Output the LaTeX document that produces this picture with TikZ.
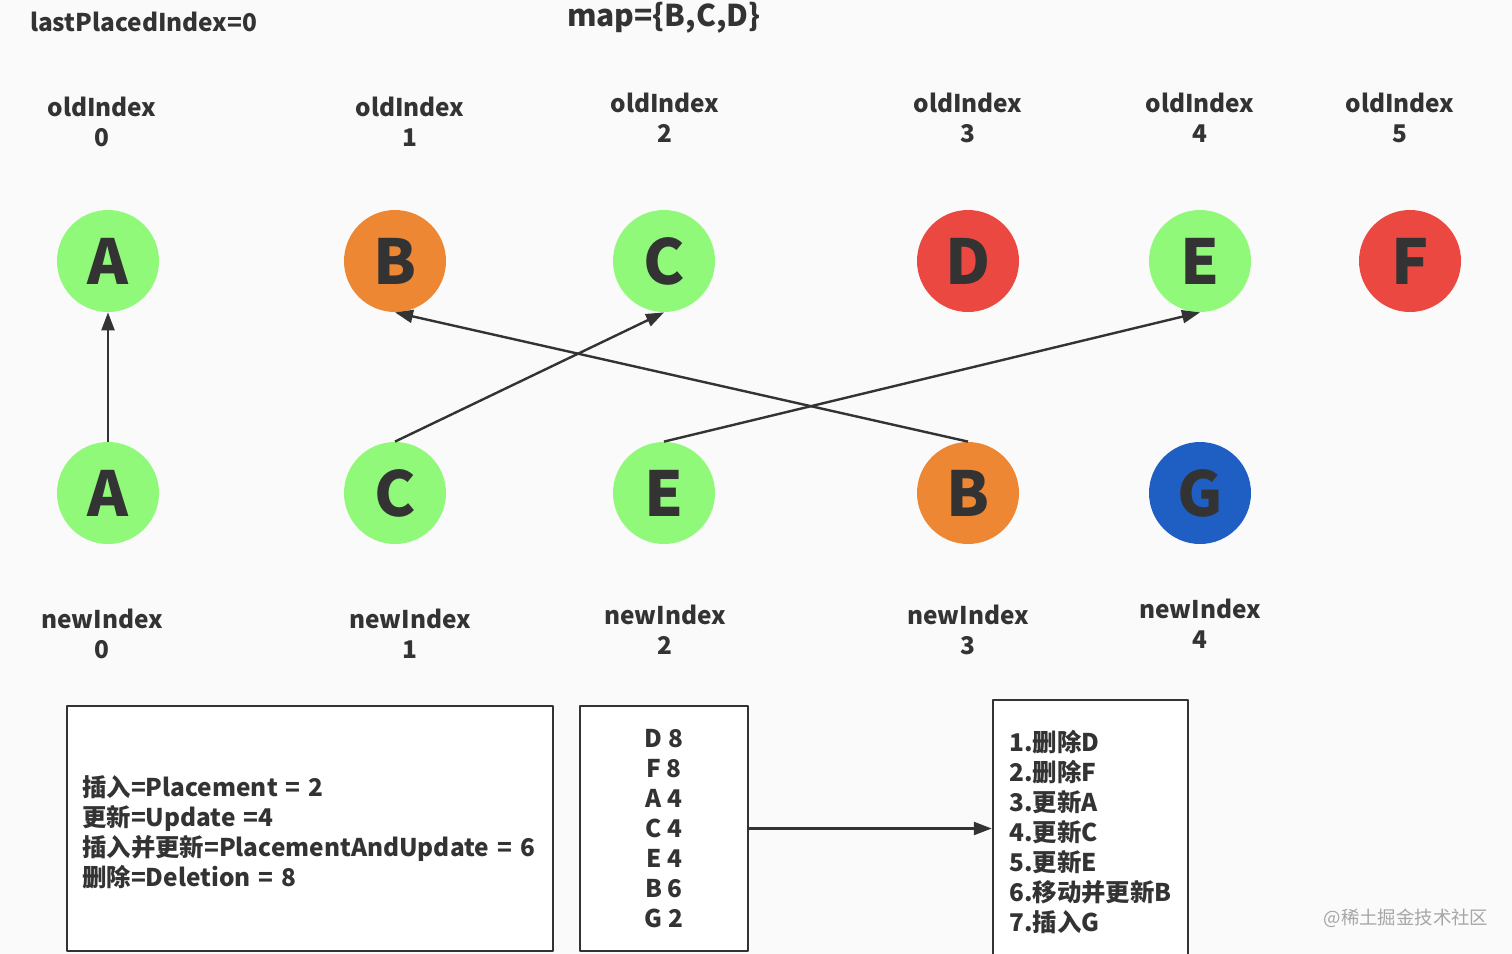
\documentclass[tikz,border=0pt]{standalone}
\usepackage{fontspec}
\setmainfont{Noto Sans CJK SC}
\usetikzlibrary{arrows.meta}
\definecolor{bg}{HTML}{FAFAFA}
\definecolor{ink}{HTML}{333333}
\definecolor{keep}{HTML}{91F97A}
\definecolor{move}{HTML}{EE8733}
\definecolor{gone}{HTML}{EA4840}
\definecolor{add}{HTML}{1F5FC4}
\begin{document}
\begin{tikzpicture}[x=0.5pt, y=-0.5pt, line join=round, >={Triangle[length=9pt,width=6.5pt]},
    every node/.style={text=ink},
    lbl/.style={font=\fontsize{12.2}{15}\selectfont\bfseries, align=center},
    vnode/.style={circle, minimum size=51pt, inner sep=0pt, font=\fontsize{31}{31}\selectfont\bfseries},
    link/.style={->, draw=ink, line width=1.2pt},
    boxx/.style={draw=ink, line width=1.2pt, fill=white, font=\fontsize{12.2}{15}\selectfont\bfseries, inner sep=0pt}]
    \useasboundingbox[fill=bg] (0,0) rectangle (1512,954);
    % headers
    \node[lbl, anchor=west] (last) at (23,22) {lastPlacedIndex=0};
    \node[lbl, font=\fontsize{15}{15}\selectfont\bfseries] (map) at (664,18) {map=\{B,C,D\}};
    % old children
    \foreach \n/\x/\c/\t in {0/108/keep/A, 1/395/move/B, 2/664/keep/C, 3/968/gone/D, 4/1200/keep/E, 5/1410/gone/F}{
        \node[vnode, fill=\c] (o\n) at (\x,261) {\t};
    }
    \foreach \n/\x/\y in {0/102/122, 1/410/122, 2/665/118, 3/968/118, 4/1200/118, 5/1400/118}
        \node[lbl] (ol\n) at (\x,\y) {oldIndex\\\n};
    % new children
    \foreach \n/\x/\c/\t in {0/108/keep/A, 1/395/keep/C, 2/664/keep/E, 3/968/move/B, 4/1200/add/G}{
        \node[vnode, fill=\c] (n\n) at (\x,493) {\t};
    }
    \foreach \n/\x/\y in {0/102/634, 1/410/634, 2/665/630, 3/968/630, 4/1200/624}
        \node[lbl] (nl\n) at (\x,\y) {newIndex\\\n};
    % matches
    \draw[link] (n0.north) -- (o0.south);
    \draw[link] (n1.north) -- (o2.south);
    \draw[link] (n3.north) -- (o1.south);
    \draw[link] (n2.north) -- (o4.south);
    % flags
    \node[boxx, minimum width=243pt, minimum height=122.5pt] (flags) at (310,828.5) {};
    \node[boxx, draw=none, fill=none, anchor=west, text width=229pt, align=left] (flagtext) at (81,832)
        {插入=Placement = 2\\更新=Update =4\\插入并更新=PlacementAndUpdate = 6\\删除=Deletion = 8};
    \node[boxx, minimum width=84pt, minimum height=122.5pt, align=center] (tags) at (664,828.5)
        {D 8\\F 8\\A 4\\C 4\\E 4\\B 6\\G 2};
    \node[boxx, minimum width=97.5pt, minimum height=132pt, align=left] (ops) at (1090.5,832)
        {1.删除D\\2.删除F\\3.更新A\\4.更新C\\5.更新E\\6.移动并更新B\\7.插入G};
    \draw[link] (tags.east) -- (tags.east -| ops.west);
    \node[text=gray!70, font=\fontsize{9.2}{10}\selectfont] (mark) at (1406,918) {@稀土掘金技术社区};
\end{tikzpicture}
\end{document}
